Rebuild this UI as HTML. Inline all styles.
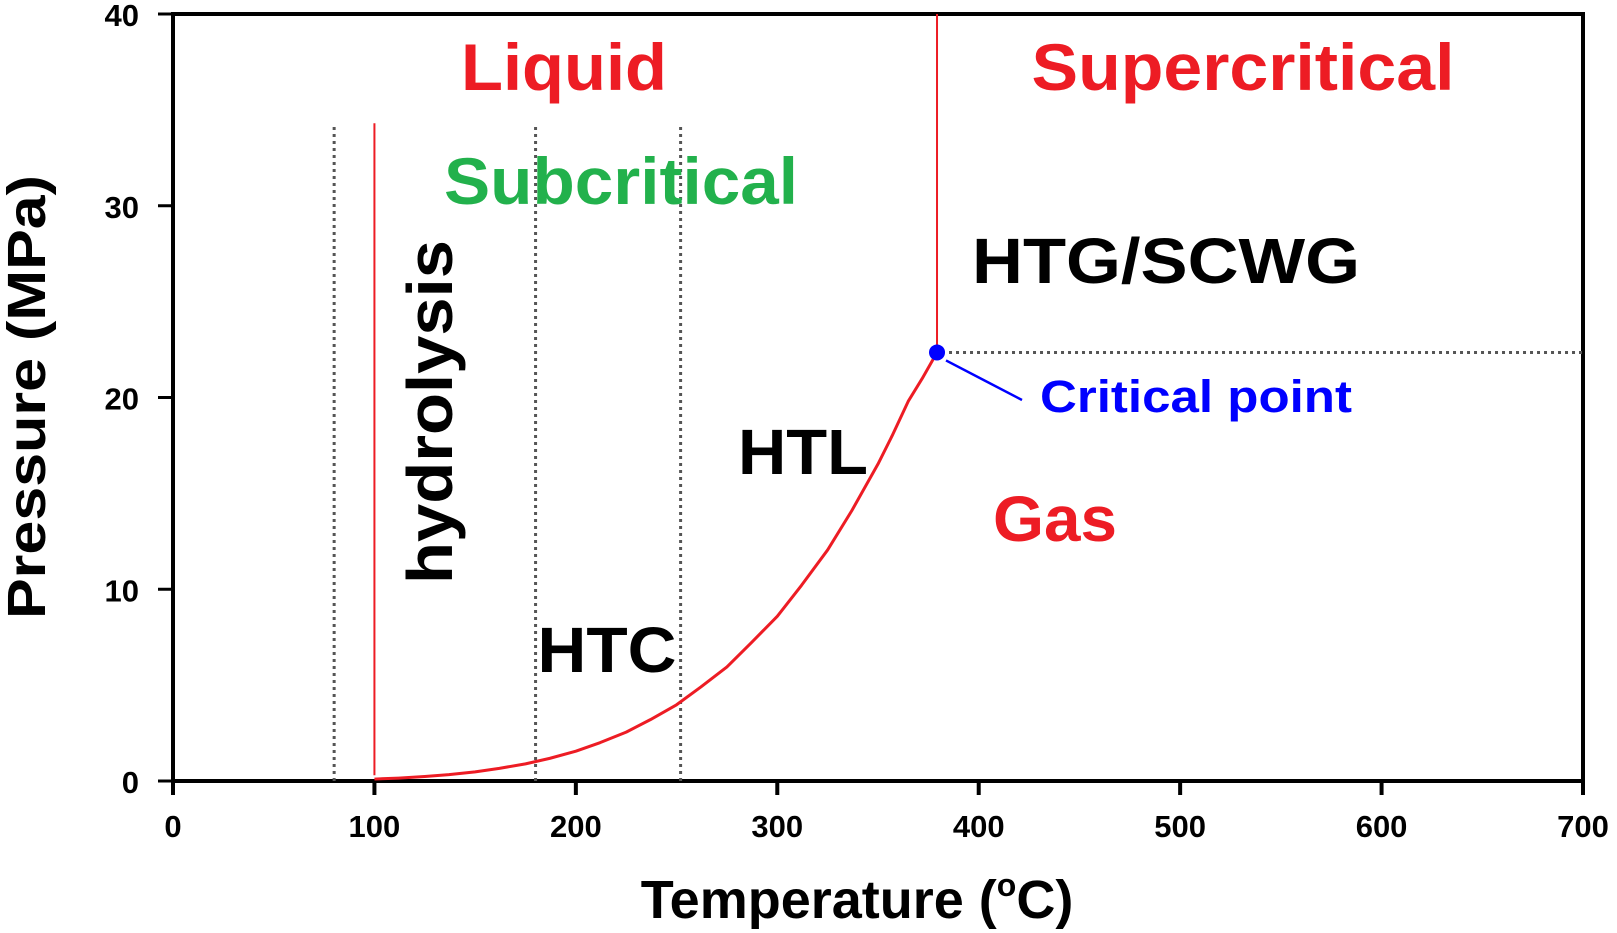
<!DOCTYPE html>
<html><head><meta charset="utf-8"><style>
html,body{margin:0;padding:0;background:#fff;}
svg{display:block;font-family:"Liberation Sans","DejaVu Sans",sans-serif;font-weight:bold;}
</style></head><body>
<svg id="chart" width="1617" height="933" viewBox="0 0 1617 933">
<g id="marks"></g>
</svg>
<script>
const xTicks=[0,100,200,300,400,500,600,700];
const yTicks=[0,10,20,30,40];
const curveT=[100,112,125,137,150,162,175,187,200,212,225,237,250,262,275,287,300,312,325,337,350,357,365,372,379.3];
const curveP=[0.101,0.15,0.232,0.33,0.476,0.66,0.892,1.18,1.555,2.0,2.548,3.2,3.976,4.9,5.95,7.2,8.59,10.2,12.05,14.1,16.53,18.0,19.8,21.0,22.35];
const dottedT=[80,180,252];
const dottedTop=34.3;
const boundaryT=100;
const critT=379.3, critP=22.35;
const labels=[
 {t:"Liquid",x:564,y:90,s:66,w:206,c:"#ed1c24",n:"liquid-label"},
 {t:"Supercritical",x:1243,y:90,s:66,w:423,c:"#ed1c24",n:"supercritical-label"},
 {t:"Subcritical",x:621,y:204,s:66,w:354,c:"#22b14c",n:"subcritical-label"},
 {t:"HTG/SCWG",x:1166,y:283,s:64,w:388,c:"#000",n:"htg-scwg-label"},
 {t:"Critical point",x:1196,y:412,s:45,w:312,c:"#0000ff",n:"critical-point-label"},
 {t:"HTL",x:803,y:474,s:64,w:130,c:"#000",n:"htl-label"},
 {t:"Gas",x:1055,y:541,s:64,w:124,c:"#ed1c24",n:"gas-label"},
 {t:"HTC",x:607,y:672,s:64,w:139,c:"#000",n:"htc-label"}
];
const X0=173,X1=1583,Y0=781,Y1=14;
const sx=v=>X0+(v-0)/700*(X1-X0);
const sy=v=>Y0-(v-0)/40*(Y0-Y1);
const NS="http://www.w3.org/2000/svg";
const g=document.getElementById('marks');
function mk(tag,attrs,parent){const e=document.createElementNS(NS,tag);for(const k in attrs)e.setAttribute(k,attrs[k]);(parent||g).appendChild(e);return e;}
let e=mk('rect',{x:X0,y:Y1,width:X1-X0,height:Y0-Y1,fill:'none',stroke:'#000','stroke-width':4});


xTicks.forEach(v=>{
 let l=mk('line',{x1:sx(v),x2:sx(v),y1:Y0,y2:Y0+14,stroke:'#000','stroke-width':4});
 
 
 let t=mk('text',{x:sx(v),y:Y0+56,'text-anchor':'middle','font-size':31});
 t.textContent=v;
 
 
});
yTicks.forEach(v=>{
 let l=mk('line',{x1:X0-15,x2:X0,y1:sy(v),y2:sy(v),stroke:'#000','stroke-width':3});
 
 
 let t=mk('text',{x:X0-34,y:sy(v)+12,'text-anchor':'end','font-size':31});
 t.textContent=v;
 
 
});
dottedT.forEach(v=>{
 let l=mk('line',{x1:sx(v),x2:sx(v),y1:sy(0),y2:sy(dottedTop),stroke:'#555','stroke-width':3,'stroke-dasharray':'3 4'});
 
 
});
e=mk('line',{x1:sx(boundaryT),x2:sx(boundaryT),y1:sy(0.3),y2:sy(dottedTop),stroke:'#ed1c24','stroke-width':2});


e=mk('line',{x1:sx(critT),x2:sx(critT),y1:sy(critP),y2:sy(40),stroke:'#ed1c24','stroke-width':2});


e=mk('line',{x1:sx(critT)+12,x2:sx(700),y1:sy(critP),y2:sy(critP),stroke:'#555','stroke-width':3,'stroke-dasharray':'3 4'});


e=mk('path',{d:curveT.map((t,i)=>(i?'L':'M')+sx(t)+','+sy(curveP[i])).join(''),fill:'none',stroke:'#ed1c24','stroke-width':3,'stroke-linejoin':'round'});


e=mk('line',{x1:sx(critT)+9,y1:sy(critP)+8,x2:1022,y2:400,stroke:'#0000ff','stroke-width':2.5});


e=mk('circle',{cx:sx(critT),cy:sy(critP),r:8,fill:'#0000ff'});


labels.forEach(L=>{
 let t=mk('text',{x:L.x,y:L.y,'text-anchor':'middle','font-size':L.s,fill:L.c,textLength:L.w,lengthAdjust:'spacingAndGlyphs'});
 t.textContent=L.t;
 
 
});
e=mk('text',{x:0,y:0,'text-anchor':'middle','font-size':64,textLength:344,lengthAdjust:'spacingAndGlyphs',transform:'translate(452,412) rotate(-90)'});
e.textContent='hydrolysis';


e=mk('text',{x:0,y:0,'text-anchor':'middle','font-size':54,textLength:444,lengthAdjust:'spacingAndGlyphs',transform:'translate(45,397) rotate(-90)'});
e.textContent='Pressure (MPa)';


e=mk('text',{x:857,y:918,'text-anchor':'middle','font-size':54});
e.innerHTML='Temperature (<tspan font-size="32" dy="-22">o</tspan><tspan dy="22">C)</tspan>';


</script>
</body></html>
